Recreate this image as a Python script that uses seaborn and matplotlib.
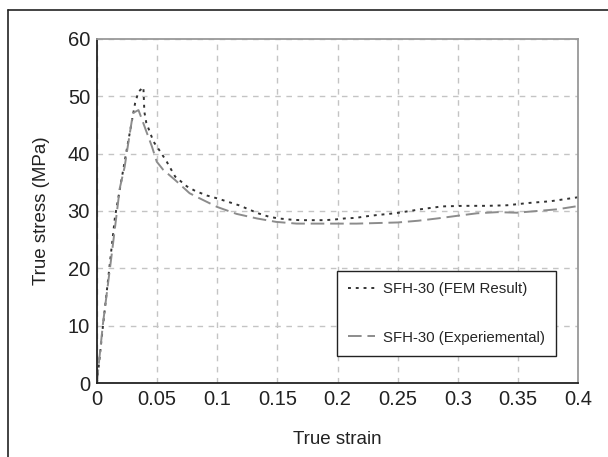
import matplotlib
matplotlib.use('Agg')
import matplotlib.pyplot as plt
import numpy as np
import pandas as pd
import seaborn as sns
from matplotlib.lines import Line2D

# FEM result
fem_strain = [0, 0.005, 0.015, 0.025, 0.0317, 0.0345, 0.0386, 0.0394, 0.041,
              0.047, 0.0525, 0.058, 0.065, 0.0747, 0.0817, 0.0914, 0.1, 0.109,
              0.118, 0.126, 0.134, 0.143, 0.151, 0.161, 0.169, 0.179, 0.189,
              0.197, 0.206, 0.215, 0.225, 0.233, 0.243, 0.251, 0.269, 0.287,
              0.305, 0.325, 0.341, 0.359, 0.377, 0.397, 0.4]
fem_stress = [0, 10, 29, 41, 48.8, 50.8, 51.6, 47.3, 45.4,
              42.1, 40.4, 38.6, 36.0, 34.3, 33.5, 32.7, 32.2, 31.6,
              31.0, 30.3, 29.6, 29.0, 28.7, 28.5, 28.4, 28.4, 28.4,
              28.5, 28.7, 28.8, 29.1, 29.3, 29.5, 29.7, 30.3, 30.8,
              30.9, 30.9, 31.0, 31.4, 31.7, 32.3, 32.4]

# Experimental
exp_strain = [0, 0.001, 0.005, 0.012, 0.019, 0.023, 0.026, 0.030, 0.0345,
              0.037, 0.041, 0.0456, 0.0497, 0.055, 0.065, 0.077, 0.0845, 0.1,
              0.116, 0.133, 0.149, 0.166, 0.184, 0.199, 0.216, 0.233, 0.25,
              0.267, 0.283, 0.301, 0.316, 0.333, 0.349, 0.366, 0.383, 0.398]
exp_stress = [0, 2.3, 10.4, 22, 34.0, 37.7, 41.8, 47.1, 47.6,
              46.2, 43.9, 41.3, 38.6, 37.2, 35.4, 33.1, 32.3, 30.7,
              29.5, 28.7, 28.1, 27.8, 27.8, 27.8, 27.8, 27.9, 28.0,
              28.3, 28.7, 29.2, 29.6, 29.8, 29.7, 30.0, 30.3, 30.8]

x_ticks = [0, 0.05, 0.1, 0.15, 0.2, 0.25, 0.3, 0.35, 0.4]
x_labels = ['0', '0.05', '0.1', '0.15', '0.2', '0.25', '0.3', '0.35', '0.4']
y_ticks = [0, 10, 20, 30, 40, 50, 60]

sns.set_style('white')
plt.rcParams['font.family'] = ['Liberation Sans', 'DejaVu Sans']

fig = plt.figure(figsize=(6.08, 4.57), dpi=100)
ax = fig.add_axes([0.1595, 0.1619, 0.7912, 0.7528])

fem = pd.DataFrame({'strain': fem_strain, 'stress': fem_stress})
exp = pd.DataFrame({'strain': exp_strain, 'stress': exp_stress})

sns.lineplot(data=fem, x='strain', y='stress', ax=ax, color='#333333',
             linewidth=1.4, linestyle=(0, (1.5, 2.5)), sort=False,
             label='SFH-30 (FEM Result)')
sns.lineplot(data=exp, x='strain', y='stress', ax=ax, color='#8c8c8c',
             linewidth=1.4, linestyle=(0, (7, 3)), sort=False,
             label='SFH-30 (Experiemental)')

ax.set_xlim(0, 0.4)
ax.set_ylim(0, 60)
ax.set_xticks(x_ticks)
ax.set_xticklabels(x_labels)
ax.set_yticks(y_ticks)
ax.tick_params(direction='in', length=4, width=1, labelsize=14.5, pad=5,
               colors='#222222', top=False, right=False)
ax.grid(True, color='#c4c4c4', linestyle=(0, (4, 4)), linewidth=1)

for side in ['left', 'bottom']:
    ax.spines[side].set_color('#222222')
    ax.spines[side].set_linewidth(1.3)
for side in ['top', 'right']:
    ax.spines[side].set_color('#999999')
    ax.spines[side].set_linewidth(1.3)

ax.set_xlabel('True strain', fontsize=13.5, labelpad=16, color='#222222')
ax.set_ylabel('True stress (MPa)', fontsize=13.5, labelpad=13, color='#222222')

leg = ax.legend(loc='upper left', bbox_to_anchor=(0.499, 0.326),
                borderaxespad=0, fontsize=10.8, labelspacing=2.3,
                handlelength=1.8, handletextpad=0.5, borderpad=0.75,
                fancybox=False, framealpha=1, edgecolor='#222222')
leg.get_frame().set_linewidth(1.0)

# outer frame (top and left edges)
fig.add_artist(Line2D([8 / 608, 1.0], [1 - 10 / 457, 1 - 10 / 457],
                      transform=fig.transFigure, color='#222222', linewidth=1.2))
fig.add_artist(Line2D([8 / 608, 8 / 608], [0, 1 - 10 / 457],
                      transform=fig.transFigure, color='#222222', linewidth=1.2))

fig.savefig('out.png', dpi=100)
